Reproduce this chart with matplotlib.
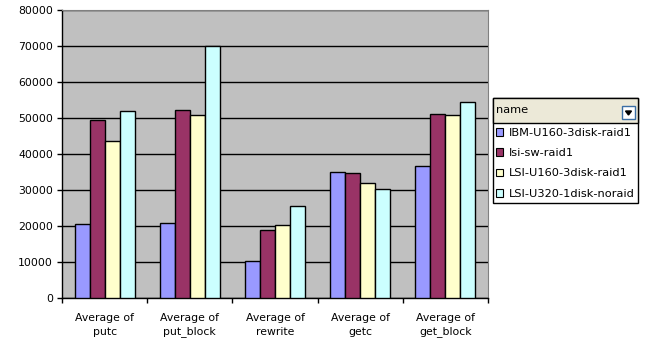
import numpy as np
import matplotlib.pyplot as plt
from matplotlib.patches import Rectangle, Patch, Polygon

plt.rcParams['font.family'] = ['DejaVu Sans']

# Data
categories = ["Average of\nputc", "Average of\nput_block", "Average of\nrewrite",
              "Average of\ngetc", "Average of\nget_block"]
series_names = ["IBM-U160-3disk-raid1", "lsi-sw-raid1", "LSI-U160-3disk-raid1", "LSI-U320-1disk-noraid"]
ibm_u160 = [20500, 20800, 10300, 35000, 36700]
lsi_sw = [49400, 52200, 18900, 34700, 51100]
lsi_u160 = [43600, 50800, 20300, 32000, 50800]
lsi_u320 = [51900, 70000, 25600, 30300, 54400]
colors = ['#9999FF', '#993366', '#FFFFCC', '#CCFFFF']

W, H = 648, 351
fs = 7.8
fig = plt.figure(figsize=(W / 100, H / 100), dpi=100)
ax = fig.add_axes([62 / W, 1 - 298 / H, (488 - 62) / W, (298 - 10) / H])
ax.set_facecolor('#C0C0C0')

x = np.arange(len(categories))
bw = 0.176
all_series = [ibm_u160, lsi_sw, lsi_u160, lsi_u320]
for i, vals in enumerate(all_series):
    ax.bar(x + (i - 1.5) * bw, vals, bw, color=colors[i], edgecolor='black',
           linewidth=1.0, zorder=3, label=series_names[i])

ax.set_xlim(-0.5, len(categories) - 0.5)
ax.set_ylim(0, 80000)
ax.set_yticks(np.arange(0, 80001, 10000))
ax.yaxis.grid(True, color='black', linewidth=1.0, zorder=1)
ax.set_axisbelow(True)

ax.set_xticks(x)
ax.set_xticklabels(categories, fontsize=fs, linespacing=1.5)
ax.set_xticks(np.arange(-0.5, len(categories)), minor=True)
ax.tick_params(axis='x', which='major', length=0, pad=10.5)
ax.tick_params(axis='x', which='minor', length=3.5, width=1, direction='out', color='black')
ax.tick_params(axis='y', length=3.5, width=1, direction='out', labelsize=fs, pad=3)

for s in ['top', 'right']:
    ax.spines[s].set_color('#808080')
for s in ['left', 'bottom']:
    ax.spines[s].set_color('black')
    ax.spines[s].set_linewidth(1.0)


def fx(px):
    return px / W


def fy(py):
    return 1 - py / H


# Legend box with header
lx0, lx1, ly0, ly1, lyh = 493, 638, 98, 203, 123
fig.patches.append(Rectangle((fx(lx0), fy(ly1)), fx(lx1 - lx0), (ly1 - ly0) / H,
                             transform=fig.transFigure, facecolor='white',
                             edgecolor='black', linewidth=1.0, zorder=0))
fig.patches.append(Rectangle((fx(lx0), fy(lyh)), fx(lx1 - lx0), (lyh - ly0) / H,
                             transform=fig.transFigure, facecolor='#ECE9D8',
                             edgecolor='black', linewidth=1.0, zorder=1))
fig.text(fx(lx0 + 3), fy(110), "name", fontsize=8.2, va='center', ha='left')
# dropdown button
fig.patches.append(Rectangle((fx(622), fy(119)), fx(13), 13 / H,
                             transform=fig.transFigure, facecolor='white',
                             edgecolor='#3A6EA5', linewidth=1.0, zorder=2))
fig.patches.append(Polygon([(fx(625.5), fy(111)), (fx(631.5), fy(111)), (fx(628.5), fy(115))],
                           closed=True, transform=fig.transFigure, facecolor='black',
                           edgecolor='black', zorder=3))

handles = [Patch(facecolor=c, edgecolor='black', linewidth=0.8) for c in colors]
leg = fig.legend(handles, series_names, loc='upper left',
                 bbox_to_anchor=(fx(lx0 - 1), fy(lyh + 1)), frameon=False,
                 fontsize=8.2, handlelength=0.65, handleheight=0.65,
                 handletextpad=0.5, labelspacing=0.9, borderpad=0.35,
                 borderaxespad=0)

fig.savefig("out.png", dpi=100)
